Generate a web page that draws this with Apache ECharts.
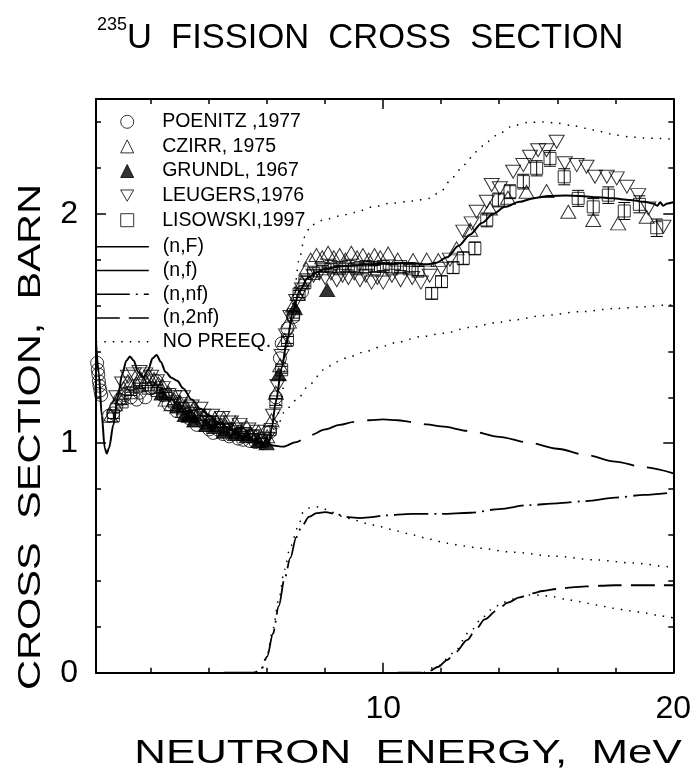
<!DOCTYPE html>
<html>
<head>
<meta charset="utf-8">
<script src="https://cdn.jsdelivr.net/npm/echarts@6/dist/echarts.min.js"></script>
<style>
  html, body { margin: 0; padding: 0; background: #fff; }
  #chart { width: 697px; height: 782px; }
</style>
</head>
<body>
<div id="chart"></div>
<script>
// ---- Axis ticks and labels (MeV / barn) ----
const xMajorTicks = [10, 20];
const xMinorTicks = [2, 4, 6, 8, 12, 14, 16, 18];
const yMajorTicks = [0, 1, 2];
const yMinorTicks = [0.2, 0.4, 0.6, 0.8, 1.2, 1.4, 1.6, 1.8, 2.2, 2.4];

// ---- Measured data: [energy MeV, cross section barn] ----
const poenitz = [
  [0.14,1.35],[0.16,1.32],[0.18,1.30],[0.20,1.27],[0.22,1.25],[0.25,1.23],[0.28,1.21],
  [0.55,1.12],[0.69,1.13],[0.80,1.16],[0.92,1.19],[1.10,1.21],[1.30,1.20],[1.50,1.19],
  [1.61,1.22],[1.80,1.20],[2.00,1.24],[2.19,1.27],[2.40,1.21],[2.60,1.17],[2.88,1.14],
  [3.10,1.13],[3.30,1.11],[3.57,1.08],[3.80,1.09],[4.00,1.06],[4.14,1.045],[4.30,1.06],
  [4.48,1.04],[4.70,1.03],[5.00,1.02],[5.17,1.015],[5.40,1.01],[5.60,1.005],[5.86,1.00],
  [6.10,1.05],[6.30,1.20],[6.44,1.37],[6.50,1.435],[6.70,1.50],[6.90,1.55],[7.20,1.66]
];
const czirr = [
  [0.60,1.12],[0.75,1.17],[0.90,1.20],[1.05,1.24],[1.20,1.27],[1.35,1.25],[1.50,1.26],
  [1.65,1.28],[1.80,1.27],[1.95,1.29],[2.10,1.28],[2.25,1.26],[2.40,1.25],[2.50,1.19],
  [2.60,1.22],[2.70,1.17],[2.80,1.19],[3.00,1.18],[3.10,1.14],[3.20,1.16],[3.40,1.14],
  [3.50,1.10],[3.60,1.13],[3.80,1.12],[3.90,1.08],[4.00,1.10],[4.20,1.11],[4.40,1.08],
  [4.50,1.11],[4.60,1.07],[4.80,1.06],[4.90,1.09],[5.00,1.05],[5.20,1.04],[5.30,1.07],
  [5.40,1.04],[5.60,1.03],[5.70,1.05],[5.80,1.02],[6.00,1.03],[6.15,1.10],[6.30,1.22],
  [6.45,1.34],[6.60,1.45],[6.75,1.53],[6.90,1.60],[7.05,1.65],[7.20,1.70],[7.35,1.76],
  [7.50,1.80],[7.70,1.82],[7.90,1.81],[8.10,1.83],[8.30,1.81],[8.50,1.82],[8.70,1.80],
  [8.90,1.83],[9.10,1.81],[9.30,1.82],[9.50,1.80],[9.70,1.82],[9.90,1.81],[10.17,1.827],
  [10.50,1.80],[11.03,1.798],[11.50,1.80],[11.90,1.798],[12.53,1.849],[13.00,1.93],
  [13.68,2.023],[14.30,2.07],[14.94,2.096],[15.63,2.099],[16.38,2.009],[17.24,1.973],
  [18.10,1.958],[19.08,1.987]
];
const grundl = [
  [2.36,1.217],[2.90,1.16],[3.16,1.123],[3.30,1.12],[3.50,1.10],[3.91,1.079],[4.20,1.07],
  [4.50,1.05],[4.90,1.04],[5.30,1.03],[5.70,1.01],[5.98,1.00],[6.40,1.30],[6.95,1.588],
  [8.07,1.667]
];
const leugers = [
  [0.80,1.20],[1.00,1.26],[1.20,1.29],[1.40,1.30],[1.60,1.31],[1.80,1.30],[2.00,1.29],
  [2.20,1.27],[2.40,1.24],[2.60,1.21],[2.80,1.20],[3.00,1.17],[3.10,1.20],[3.20,1.15],
  [3.40,1.16],[3.60,1.12],[3.70,1.15],[3.80,1.12],[4.00,1.09],[4.10,1.12],[4.30,1.09],
  [4.45,1.11],[4.60,1.06],[4.75,1.09],[4.90,1.06],[5.05,1.08],[5.20,1.04],[5.35,1.06],
  [5.50,1.03],[5.65,1.05],[5.80,1.01],[6.00,1.02],[6.20,1.12],[6.35,1.25],[6.50,1.38],
  [6.65,1.47],[6.80,1.55],[7.00,1.62],[7.20,1.67],[7.40,1.71],[7.60,1.73],[7.80,1.74],
  [8.00,1.72],[8.20,1.74],[8.40,1.71],[8.60,1.73],[8.80,1.72],[9.00,1.74],[9.20,1.71],
  [9.40,1.73],[9.60,1.70],[9.80,1.72],[10.00,1.70],[10.30,1.73],[10.60,1.71],[11.00,1.72],
  [11.30,1.70],[11.60,1.73],[12.00,1.76],[12.30,1.80],[12.76,1.922],[13.05,1.958],
  [13.22,2.009],[13.57,2.052],[13.74,2.125],[14.02,2.111],[14.48,2.183],[14.83,2.212],
  [15.06,2.248],[15.34,2.277],[15.63,2.277],[15.98,2.314],[16.26,2.22],[16.67,2.212],
  [17.01,2.205],[17.30,2.161],[17.71,2.161],[18.05,2.154],[18.40,2.118],[18.79,2.081],
  [19.14,2.023],[19.66,1.943]
];
// [energy, cross section, uncertainty]
const lisowski = [
  [0.70,1.12,0.012],[1.00,1.18,0.012],[1.30,1.22,0.012],[1.60,1.25,0.012],[1.90,1.24,0.012],
  [2.20,1.23,0.012],[2.50,1.21,0.012],[2.80,1.18,0.012],[3.10,1.15,0.012],[3.40,1.13,0.012],
  [3.70,1.11,0.012],[4.00,1.09,0.012],[4.30,1.08,0.012],[4.60,1.06,0.012],[4.90,1.05,0.012],
  [5.20,1.04,0.012],[5.50,1.03,0.012],[5.80,1.01,0.012],[6.10,1.06,0.015],[6.30,1.18,0.015],
  [6.50,1.32,0.015],[6.70,1.45,0.015],[6.90,1.56,0.015],[7.10,1.65,0.015],[7.30,1.70,0.015],
  [7.60,1.74,0.015],[7.90,1.76,0.015],[8.20,1.77,0.015],[8.50,1.76,0.015],[8.80,1.77,0.015],
  [9.10,1.76,0.015],[9.40,1.77,0.015],[9.70,1.76,0.015],[10.00,1.77,0.018],[10.30,1.76,0.018],
  [10.60,1.77,0.018],[10.90,1.76,0.018],[11.20,1.75,0.02],[11.67,1.653,0.025],[12.01,1.704,0.025],
  [12.41,1.765,0.025],[12.76,1.806,0.028],[13.16,1.849,0.028],[13.57,1.973,0.03],[13.97,2.06,0.03],
  [14.37,2.096,0.03],[14.83,2.14,0.032],[15.29,2.198,0.033],[15.75,2.241,0.034],[16.24,2.161,0.035],
  [16.72,2.067,0.035],[17.24,2.03,0.036],[17.76,2.081,0.036],[18.31,2.012,0.037],[18.83,2.041,0.037],
  [19.43,1.939,0.038]
];

// ---- Model calculations ----
const totalFission = [
  [0.10,1.44],[0.20,1.30],[0.30,1.12],[0.40,0.98],[0.47,0.955],[0.55,0.98],[0.70,1.08],
  [0.85,1.20],[1.00,1.30],[1.15,1.36],[1.27,1.378],[1.40,1.36],[1.55,1.31],[1.72,1.285],
  [1.90,1.32],[2.05,1.37],[2.19,1.384],[2.33,1.355],[2.50,1.31],[2.70,1.285],[2.90,1.272],
  [3.10,1.24],[3.40,1.19],[3.70,1.15],[4.00,1.12],[4.40,1.085],[4.80,1.055],[5.20,1.03],
  [5.60,1.01],[5.90,1.00],[6.05,1.00],[6.15,1.06],[6.30,1.18],[6.50,1.33],[6.70,1.46],
  [6.90,1.58],[7.10,1.66],[7.40,1.72],[7.70,1.745],[8.00,1.76],[8.50,1.77],[9.00,1.776],
  [10.00,1.782],[11.00,1.785],[11.50,1.78],[11.80,1.785],[12.20,1.81],[12.60,1.86],[13.00,1.91],
  [13.40,1.96],[13.80,2.00],[14.20,2.03],[14.70,2.052],[15.20,2.068],[15.70,2.077],[16.30,2.08],
  [16.80,2.077],[17.40,2.072],[17.90,2.067],[18.50,2.06],[19.00,2.052],[19.30,2.045],
  [19.45,2.035],[19.55,2.05],[19.65,2.035],[19.80,2.045],[20.00,2.05]
];
const firstChance = [
  [5.70,1.005],[5.90,1.00],[6.20,0.99],[6.55,0.985],[7.00,1.005],[7.50,1.036],[8.00,1.06],
  [8.50,1.08],[9.00,1.093],[9.50,1.10],[10.00,1.104],[10.50,1.10],[11.00,1.092],[11.50,1.082],
  [12.00,1.073],[13.00,1.053],[14.00,1.028],[15.00,1.003],[16.00,0.976],[17.00,0.948],
  [18.00,0.92],[19.00,0.895],[20.00,0.869]
];
const secondChance = [
  [4.50,0.0],[5.55,0.0],[5.80,0.015],[6.00,0.07],[6.20,0.17],[6.40,0.29],[6.60,0.41],
  [6.80,0.50],[7.00,0.59],[7.20,0.64],[7.45,0.68],[7.70,0.695],[8.00,0.70],[8.40,0.69],
  [8.80,0.678],[9.20,0.674],[9.60,0.678],[10.00,0.685],[11.00,0.692],[12.00,0.692],
  [13.00,0.697],[14.00,0.713],[15.00,0.73],[16.00,0.738],[17.00,0.748],[18.00,0.763],
  [19.00,0.775],[20.00,0.786]
];
const thirdChance = [
  [10.50,0.0],[11.30,0.0],[11.60,0.008],[11.90,0.026],[12.20,0.055],[12.50,0.09],[12.90,0.143],
  [13.20,0.19],[13.50,0.232],[13.90,0.27],[14.30,0.305],[14.70,0.328],[15.10,0.345],[15.50,0.356],
  [16.00,0.365],[16.50,0.372],[17.00,0.376],[17.50,0.379],[18.00,0.381],[19.00,0.381],[20.00,0.381]
];
// Same reactions computed without the pre-equilibrium component
const totalNoPreeq = [
  [5.90,1.00],[6.10,1.02],[6.30,1.08],[6.50,1.20],[6.67,1.40],[6.80,1.52],[6.95,1.68],
  [7.10,1.80],[7.30,1.90],[7.50,1.95],[8.00,1.975],[8.50,1.99],[9.00,2.005],[9.66,2.03],
  [10.20,2.045],[11.00,2.055],[11.60,2.067],[12.00,2.10],[12.40,2.16],[12.80,2.215],
  [13.20,2.27],[13.60,2.315],[14.00,2.35],[14.50,2.385],[15.00,2.398],[15.50,2.40],
  [16.00,2.395],[16.50,2.385],[17.00,2.372],[17.50,2.358],[18.00,2.343],[18.50,2.335],
  [19.00,2.33],[20.00,2.325]
];
const firstNoPreeq = [
  [6.00,1.00],[6.27,1.057],[6.67,1.15],[7.00,1.188],[7.50,1.26],[7.93,1.319],[8.40,1.355],
  [8.85,1.377],[9.40,1.40],[9.90,1.42],[10.50,1.44],[11.27,1.464],[12.07,1.479],[13.00,1.505],
  [14.00,1.527],[14.50,1.537],[15.50,1.556],[16.80,1.573],[18.00,1.587],[19.00,1.595],
  [19.80,1.602],[20.00,1.603]
];
const secondNoPreeq = [
  [5.55,0.0],[5.80,0.02],[6.00,0.08],[6.20,0.19],[6.40,0.32],[6.60,0.45],[6.80,0.55],
  [7.07,0.636],[7.24,0.70],[7.50,0.72],[7.82,0.723],[8.20,0.70],[8.62,0.68],[9.00,0.665],
  [9.43,0.651],[9.89,0.636],[10.50,0.617],[11.03,0.60],[11.60,0.582],[12.19,0.564],
  [12.80,0.552],[13.33,0.542],[14.48,0.525],[15.86,0.508],[17.36,0.491],[18.60,0.478],
  [19.89,0.462],[20.00,0.46]
];
const thirdNoPreeq = [
  [11.40,0.0],[11.90,0.03],[12.41,0.085],[12.99,0.179],[13.45,0.244],[13.79,0.281],
  [14.10,0.305],[14.48,0.321],[15.06,0.339],[15.40,0.338],[15.86,0.331],[16.30,0.32],
  [16.78,0.309],[17.36,0.295],[17.93,0.281],[18.50,0.27],[19.08,0.259],[19.50,0.25],
  [19.89,0.241],[20.00,0.239]
];

const FONT = '"Liberation Sans", Arial, Helvetica, sans-serif';
const INK = '#000';
const CLEAR = 'rgba(0,0,0,0)';
// Downward-pointing triangle used for the LEUGERS legend entry
const DOWN_TRIANGLE = 'path://M0,0 L15,0 L7.5,13 Z';

const chart = echarts.init(document.getElementById('chart'), null, { renderer: 'canvas' });

function makeXAxis(position, ticks, len, withLine, withLabels) {
  return {
    type: 'value', min: 0.1, max: 20, position: position,
    axisLine: { show: withLine, onZero: false, lineStyle: { color: INK, width: 2 } },
    axisTick: { show: true, inside: true, length: len, customValues: ticks,
      lineStyle: { color: INK, width: 1.5 } },
    axisLabel: { show: withLabels, customValues: ticks, margin: 20,
      fontFamily: FONT, fontSize: 32, color: INK },
    splitLine: { show: false }
  };
}
function makeYAxis(position, ticks, len, withLine, withLabels) {
  return {
    type: 'value', min: 0, max: 2.5, position: position,
    axisLine: { show: withLine, onZero: false, lineStyle: { color: INK, width: 2 } },
    axisTick: { show: true, inside: true, length: len, customValues: ticks,
      lineStyle: { color: INK, width: 1.5 } },
    axisLabel: { show: withLabels, customValues: ticks, margin: 18,
      fontFamily: FONT, fontSize: 32, color: INK },
    splitLine: { show: false }
  };
}

// Vertical uncertainty bar with end caps for each LISOWSKI point
function renderErrorBar(params, api) {
  const e = api.value(0), s = api.value(1), d = api.value(2);
  const hi = api.coord([e, s + d]);
  const lo = api.coord([e, s - d]);
  const w = 6;
  const style = { stroke: INK, lineWidth: 1, fill: null };
  return {
    type: 'group',
    children: [
      { type: 'line', shape: { x1: hi[0], y1: hi[1], x2: lo[0], y2: lo[1] }, style: style },
      { type: 'line', shape: { x1: hi[0] - w, y1: hi[1], x2: hi[0] + w, y2: hi[1] }, style: style },
      { type: 'line', shape: { x1: lo[0] - w, y1: lo[1], x2: lo[0] + w, y2: lo[1] }, style: style }
    ]
  };
}

const openMarker = { color: CLEAR, borderColor: INK, borderWidth: 1 };

function scatter(name, data, symbol, size, rotate, itemStyle) {
  return {
    name: name, type: 'scatter', data: data, symbol: symbol, symbolSize: size,
    symbolRotate: rotate, itemStyle: itemStyle, silent: true,
    encode: { x: 0, y: 1 }
  };
}
function curve(name, data, width, dash) {
  return {
    name: name, type: 'line', data: data, symbol: 'none', showSymbol: false,
    smooth: 0.3, smoothMonotone: 'x', silent: true,
    itemStyle: { color: CLEAR },
    lineStyle: { color: INK, width: width, type: dash, cap: 'butt' }
  };
}

const DOTS = [1.5, 7];

chart.setOption({
  animation: false,
  backgroundColor: '#fff',
  title: {
    text: '{sup|235}{main|U  FISSION  CROSS  SECTION}',
    left: 97, top: 16, padding: 0,
    textStyle: {
      fontWeight: 'normal',
      rich: {
        sup: { fontFamily: FONT, fontSize: 18, fontWeight: 'normal', color: INK, lineHeight: 16, verticalAlign: 'top' },
        main: { fontFamily: FONT, fontSize: 34.5, fontWeight: 'normal', color: INK, lineHeight: 40, verticalAlign: 'bottom' }
      }
    }
  },
  grid: { left: 96, right: 23.7, top: 99, bottom: 109.3, containLabel: false },
  xAxis: [
    makeXAxis('bottom', xMajorTicks, 10, true, true),
    makeXAxis('bottom', xMinorTicks, 5, false, false),
    makeXAxis('top', xMajorTicks, 10, true, false),
    makeXAxis('top', xMinorTicks, 5, false, false)
  ],
  yAxis: [
    makeYAxis('left', yMajorTicks, 10, true, true),
    makeYAxis('left', yMinorTicks, 5, false, false),
    makeYAxis('right', yMajorTicks, 10, true, false),
    makeYAxis('right', yMinorTicks, 5, false, false)
  ],
  legend: [
    {
      data: [
        { name: 'POENITZ ,1977' },
        { name: 'CZIRR, 1975' },
        { name: 'GRUNDL, 1967' },
        { name: 'LEUGERS,1976', icon: DOWN_TRIANGLE },
        { name: 'LISOWSKI,1997' }
      ],
      orient: 'vertical', left: 120.2, top: 109.5, padding: 0,
      itemWidth: 13, itemHeight: 13, itemGap: 0, selectedMode: false,
      itemStyle: { borderWidth: 1 },
      textStyle: { fontFamily: FONT, fontSize: 19.5, color: INK, lineHeight: 24.6, padding: [0, 0, 0, 23.5] }
    },
    {
      data: [
        { name: '(n,F)' },
        { name: '(n,f)', lineStyle: { type: 'solid' } },
        { name: '(n,nf)' },
        { name: '(n,2nf)' },
        { name: 'NO PREEQ.' }
      ],
      orient: 'vertical', left: 95, top: 234.8, padding: 0,
      itemWidth: 53, itemHeight: 12, itemGap: 0, selectedMode: false,
      itemStyle: { color: CLEAR, borderWidth: 0, opacity: 0 },
      lineStyle: { width: 1.6 },
      textStyle: { fontFamily: FONT, fontSize: 19.5, color: INK, lineHeight: 23.75, padding: [0, 0, 0, 9] }
    }
  ],
  graphic: [
    {
      type: 'text', x: 408, y: 754, scaleX: 1.29,
      style: { text: 'NEUTRON  ENERGY,  MeV', font: '34px ' + FONT, fill: INK,
        align: 'center', verticalAlign: 'middle', textAlign: 'center', textVerticalAlign: 'middle' }
    },
    {
      type: 'text', x: 31, y: 437, rotation: Math.PI / 2, scaleX: 1.3,
      style: { text: 'CROSS  SECTION,  BARN', font: '32px ' + FONT, fill: INK,
        align: 'center', verticalAlign: 'middle', textAlign: 'center', textVerticalAlign: 'middle' }
    }
  ],
  series: [
    curve('(n,F)', totalFission, 2, 'solid'),
    curve('(n,f)', firstChance, 1.8, [44, 13]),
    curve('(n,nf)', secondChance, 1.8, [34, 6, 2, 6]),
    curve('(n,2nf)', thirdChance, 1.8, [24, 9]),
    curve('NO PREEQ.', totalNoPreeq, 1.5, DOTS),
    curve('NO PREEQ.', firstNoPreeq, 1.5, DOTS),
    curve('NO PREEQ.', secondNoPreeq, 1.5, DOTS),
    curve('NO PREEQ.', thirdNoPreeq, 1.5, DOTS),
    scatter('POENITZ ,1977', poenitz, 'circle', 13, 0, openMarker),
    scatter('CZIRR, 1975', czirr, 'triangle', [15, 13], 0, openMarker),
    scatter('GRUNDL, 1967', grundl, 'triangle', [15, 13], 0, { color: INK, borderColor: INK, borderWidth: 1 }),
    scatter('LEUGERS,1976', leugers, 'triangle', [15, 13], 180, openMarker),
    scatter('LISOWSKI,1997', lisowski, 'rect', 12, 0, openMarker),
    {
      type: 'custom', data: lisowski, renderItem: renderErrorBar, silent: true,
      encode: { x: 0, y: 1 }
    }
  ]
});
</script>
</body>
</html>
